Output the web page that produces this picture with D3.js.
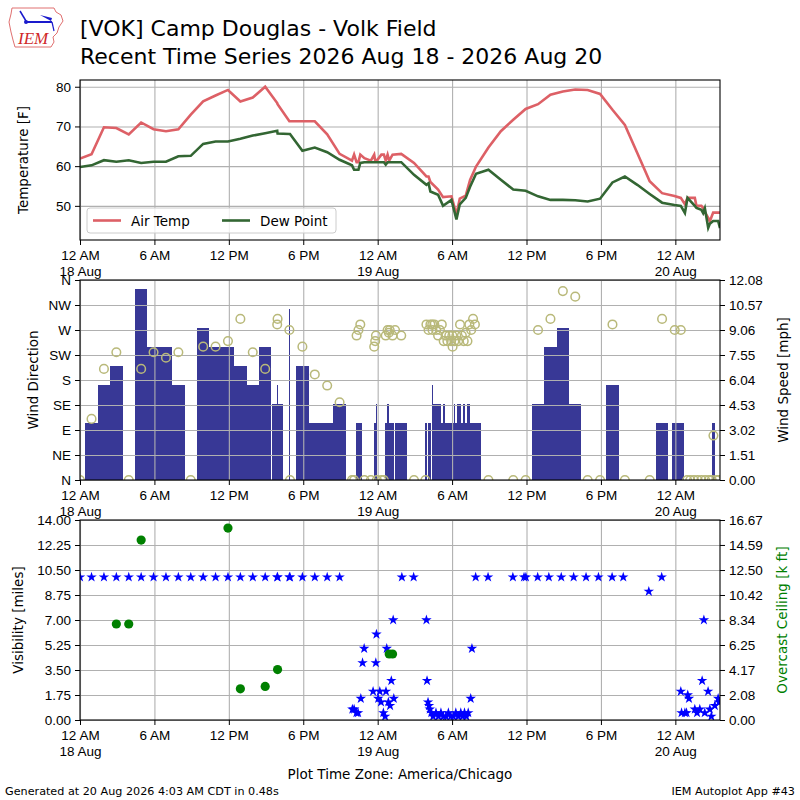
<!DOCTYPE html>
<html>
<head>
<meta charset="utf-8">
<script src="https://cdn.jsdelivr.net/npm/d3@7"></script>
<style>
  body { margin: 0; background: #fff; }
  svg { font-family: "DejaVu Sans", sans-serif; }
  .axis text { font-size: 13.5px; fill: #000; }
  .axis line { stroke: #000; }
  .axis path { display: none; }
  .grid line { stroke: #b0b0b0; stroke-width: 1.1; }
  .grid path { display: none; }
</style>
</head>
<body>
<svg id="chart" width="800" height="800"></svg>
<script>
// hours after 2026-08-18 00:00 local (America/Chicago)
const tempHours = [0, 0.93, 1.93, 2.93, 3.93, 4.93, 5.93, 6.93, 7.93, 8.93, 9.93, 10.93, 11.93, 12.93, 13.93, 14.93,
  15.9, 15.93, 16.88, 16.93, 17.93, 18.93, 19.93, 20.93, 21.93, 22.1, 22.3, 22.45, 22.6, 22.93, 23.45, 23.72, 23.8,
  23.93, 24.3, 24.5, 24.65, 24.8, 24.93, 25.2, 25.9, 26.93, 27.93, 28.1, 28.25, 28.87, 29.27, 29.95, 30.35, 30.62,
  31.1, 31.45, 31.93, 32.93, 33.93, 34.93, 35.93, 36.93, 37.93, 38.93, 39.93, 40.93, 41.93, 42.93, 43.93, 44.93,
  45.93, 46.93, 47.93, 48.44, 48.77, 48.98, 49.57, 49.7, 50.1, 50.24, 50.38, 50.65, 50.78, 51.05, 51.45, 51.6];
const airTemp = [61.9, 63.0, 69.8, 69.6, 68.0, 71.0, 69.3, 68.8, 69.3, 73.0, 76.3, 77.8, 79.2, 76.3, 77.3, 80.0,
  75.9, 75.6, 71.3, 71.3, 71.3, 71.3, 68.0, 63.1, 61.4, 62.9, 61.0, 61.0, 62.9, 62.0, 61.4, 62.9, 61.4,
  61.4, 62.9, 62.9, 61.4, 62.9, 61.4, 62.9, 63.1, 60.8, 57.4, 57.4, 56.0, 54.1, 52.2, 52.4, 47.8, 51.8,
  52.6, 56.5, 59.9, 64.7, 68.8, 71.7, 74.4, 75.6, 78.0, 78.8, 79.3, 79.2, 78.2, 74.2, 70.4, 63.3,
  56.2, 53.2, 52.5, 52.0, 50.4, 52.0, 52.0, 50.0, 50.0, 49.5, 48.4, 47.0, 46.1, 48.3, 48.3, 48.3];
const dewPoint = [59.8, 60.2, 61.5, 61.1, 61.5, 60.8, 61.1, 61.1, 62.5, 62.6, 65.6, 66.2, 66.2, 66.9, 67.7, 68.3,
  68.9, 68.2, 68.1, 68.1, 63.9, 64.7, 63.5, 61.6, 60.2, 59.1, 59.1, 59.1, 60.8, 61.0, 61.0, 61.0, 61.0,
  61.0, 61.0, 61.0, 60.4, 61.0, 61.0, 61.0, 61.0, 57.8, 55.3, 55.7, 53.6, 52.8, 50.0, 51.5, 46.6, 50.4,
  52.0, 54.8, 58.1, 59.1, 56.6, 54.1, 53.8, 52.4, 51.5, 51.5, 51.4, 51.1, 51.8, 55.9, 57.4, 55.3,
  53.0, 50.8, 50.2, 50.0, 48.2, 52.0, 50.0, 49.5, 49.0, 48.2, 49.4, 44.5, 45.5, 46.2, 46.2, 44.4];

const windHours = [0, 0.93, 1.93, 2.93, 3.93, 4.93, 5.93, 6.93, 7.93, 8.93, 9.93, 10.93, 11.93, 12.93, 13.93, 14.93,
  15.9, 15.93, 16.88, 16.93, 17.93, 18.93, 19.93, 20.93, 21.93, 22.1, 22.3, 22.45, 22.6, 22.93, 23.45, 23.72, 23.8,
  23.86, 23.93, 24.3, 24.5, 24.65, 24.8, 24.9, 24.97, 25.2, 25.4, 25.9, 26.93, 27.85, 27.93, 28.1, 28.25, 28.4, 28.42,
  28.57, 28.72, 28.87, 29.02, 29.17, 29.32, 29.47, 29.62, 29.77, 29.92, 30.02, 30.04, 30.19, 30.34, 30.49, 30.64,
  30.79, 30.94, 31.09, 31.24, 31.39, 31.54, 31.69, 31.84, 32.93, 34.93, 35.93, 36.93, 37.93, 38.93, 39.93, 40.93,
  41.93, 42.93, 43.93, 45.93, 46.93, 47.95, 48.44, 48.95, 49.2, 49.5, 49.8, 50.1, 50.4, 50.7, 50.93, 51.07, 51.3, 51.5];
const windDir = [0, 110, 200, 230, 0, 200, 230, 220, 230, 0, 240, 240, 250, 290, 230, 200,
  280, 290, 270, 0, 240, 190, 170, 140, 0, 0, 260, 270, 280, 0, 0, 240, 250,
  260, 0, 0, 0, 260, 270, 265, 270, 260, 270, 260, 0, 0, 280, 270, 280, 280, 270,
  280, 270, 260, 270, 280, 250, 260, 250, 260, 250, 260, 240, 250, 260, 250, 280,
  260, 250, 265, 250, 280, 270, 290, 280, 0, 0, 0, 270, 290, 340, 330, 0,
  0, 280, 0, 0, 290, 270, 270, 0, 0, 0, 0, 0, 0, 0, 0, 80, 0, 0];
const windKnots = [0, 3, 5, 6, 0, 10, 7, 7, 5, 0, 8, 7, 7, 6, 5, 7,
  5, 4, 9, 0, 6, 3, 3, 4, 0, 0, 3, 3, 3, 0, 0, 3, 3,
  4, 0, 0, 0, 3, 4, 4, 3, 3, 0, 3, 0, 0, 3, 3, 3, 5, 4,
  4, 4, 4, 4, 3, 4, 3, 3, 3, 3, 5, 3, 4, 3, 4, 4,
  3, 4, 3, 4, 4, 3, 3, 3, 0, 0, 0, 4, 7, 8, 4, 0,
  0, 5, 0, 0, 3, 3, 3, 0, 0, 0, 0, 0, 0, 0, 0, 3, 0, 0];

const visHours = [0, 0.93, 1.93, 2.93, 3.93, 4.93, 5.93, 6.93, 7.93, 8.93, 9.93, 10.93, 11.93, 12.93, 13.93, 14.93,
  15.9, 15.93, 16.88, 16.93, 17.93, 18.93, 19.93, 20.93, 21.96, 22.1, 22.29, 22.42, 22.64, 22.78, 22.91, 23.63,
  23.85, 23.9, 24.04, 24.17, 24.27, 24.46, 24.6, 24.67, 24.73, 24.86, 25.0, 25.1, 25.25, 25.3, 25.95, 26.9, 27.93,
  27.98, 28.06, 28.14, 28.2, 28.33, 28.47, 28.7, 28.9, 29.1, 29.3, 29.5, 29.7, 29.9, 30.1, 30.3, 30.5, 30.7, 30.85,
  31.0, 31.15, 31.3, 31.5, 31.6, 31.9, 32.9, 34.9, 35.8, 35.95, 36.9, 37.8, 38.8, 39.8, 40.8, 41.8, 42.9, 43.8,
  45.86, 46.9, 48.44, 48.5, 48.77, 48.9, 49.0, 49.1, 49.57, 49.75, 49.97, 50.16, 50.3, 50.37, 50.64, 50.78, 50.9,
  51.18, 51.45, 51.53];
const visMiles = [10, 10, 10, 10, 10, 10, 10, 10, 10, 10, 10, 10, 10, 10, 10, 10,
  10, 10, 10, 10, 10, 10, 10, 10, 0.75, 0.75, 0.5, 0.5, 1.5, 4, 5, 2,
  4, 6, 1.5, 2, 1.25, 0.5, 0.25, 2, 5, 1.25, 1, 2.75, 7, 1.5, 10, 10, 7,
  2.75, 1.25, 1, 0.75, 0.5, 0.25, 0.5, 0.25, 0.5, 0.25, 0.25, 0.5, 0.25, 0.25, 0.5, 0.25, 0.5, 0.25,
  0.5, 0.25, 0.5, 1.5, 5, 10, 10, 10, 10, 10, 10, 10, 10, 10, 10, 10, 10, 10,
  9, 10, 2, 0.5, 0.5, 0.5, 1.75, 1.5, 0.75, 0.5, 0.75, 2.75, 7, 0.5, 2, 0.75, 0.25,
  1, 1.5, 1.25];

const ceilingHours = [2.93, 3.93, 4.93, 11.93, 12.93, 14.93, 15.93, 24.93, 25.2];
const ceilingKft = [8.0, 8.0, 15.0, 16.0, 2.6, 2.8, 4.2, 5.5, 5.5];

const tempTicks = [50, 60, 70, 80];
const dirTicks = [0, 45, 90, 135, 180, 225, 270, 315, 360];
const dirLabels = ["N", "NE", "E", "SE", "S", "SW", "W", "NW", "N"];
const speedTicks = [0, 1.51, 3.02, 4.53, 6.04, 7.55, 9.06, 10.57, 12.08];
const visTicks = [0, 1.75, 3.5, 5.25, 7, 8.75, 10.5, 12.25, 14];
const ceilingTicks = [0, 2.08, 4.17, 6.25, 8.34, 10.42, 12.5, 14.59, 16.67];

const svg = d3.select("#chart");
const left = 80, right = 720;
const start = new Date(2026, 7, 18);
const at = (h) => new Date(start.getTime() + h * 3600e3);
const x = d3.scaleTime().domain([start, at(51.6)]).range([left, right]);

const hourFormat = d3.timeFormat("%-I %p");
const dayFormat = d3.timeFormat("%d %b");

const drawFrame = (top, bottom, id) => {
  svg.append("clipPath").attr("id", id)
    .append("rect").attr("x", left).attr("y", top).attr("width", right - left).attr("height", bottom - top);
};

const drawGrid = (top, bottom, y, ticks) => {
  svg.append("g").attr("class", "grid")
    .attr("transform", `translate(0,${bottom})`)
    .call(d3.axisBottom(x).ticks(d3.timeHour.every(6)).tickSize(-(bottom - top)).tickFormat(""));
  svg.append("g").attr("class", "grid")
    .attr("transform", `translate(${left},0)`)
    .call(d3.axisLeft(y).tickValues(ticks).tickSize(-(right - left)).tickFormat(""));
};

const drawAxes = (top, bottom) => {
  svg.append("rect")
    .attr("x", left).attr("y", top).attr("width", right - left).attr("height", bottom - top)
    .attr("fill", "none").attr("stroke", "#000").attr("stroke-width", 1.1);
  const g = svg.append("g").attr("class", "axis")
    .attr("transform", `translate(0,${bottom})`)
    .call(d3.axisBottom(x).ticks(d3.timeHour.every(6)).tickFormat(hourFormat).tickSize(5).tickPadding(5));
  g.selectAll(".tick text").each(function (d) {
    if (d.getHours() === 0) {
      d3.select(this).append("tspan").attr("x", 0).attr("dy", "1.2em").text(dayFormat(d));
    }
  });
};

const yLabel = (text, xPos, top, bottom, color) => {
  svg.append("text")
    .attr("transform", `translate(${xPos},${(top + bottom) / 2}) rotate(-90)`)
    .attr("text-anchor", "middle")
    .attr("dominant-baseline", "central")
    .attr("font-size", "13.5px")
    .attr("fill", color || "#000")
    .text(text);
};

// ---------- panel 1: temperature ----------
const p1 = { top: 80, bottom: 240 };
const yTemp = d3.scaleLinear().domain([41.4, 81.7]).range([p1.bottom, p1.top]);
drawFrame(p1.top, p1.bottom, "clip1");
drawGrid(p1.top, p1.bottom, yTemp, tempTicks);

const tempData = tempHours.map((h, i) => ({ t: at(h), temp: airTemp[i], dew: dewPoint[i] }));
const plot1 = svg.append("g").attr("clip-path", "url(#clip1)");
plot1.append("path").datum(tempData)
  .attr("d", d3.line().x((d) => x(d.t)).y((d) => yTemp(d.temp)))
  .attr("fill", "none").attr("stroke", "#dd6066").attr("stroke-width", 2.6);
plot1.append("path").datum(tempData)
  .attr("d", d3.line().x((d) => x(d.t)).y((d) => yTemp(d.dew)))
  .attr("fill", "none").attr("stroke", "#336633").attr("stroke-width", 2.6);

drawAxes(p1.top, p1.bottom);
svg.append("g").attr("class", "axis").attr("transform", `translate(${left},0)`)
  .call(d3.axisLeft(yTemp).tickValues(tempTicks).tickSize(5).tickPadding(4));
yLabel("Temperature [F]", 23, p1.top, p1.bottom);

// legend
const legend = svg.append("g").attr("transform", "translate(87,208)");
legend.append("rect").attr("width", 249).attr("height", 25).attr("rx", 3)
  .attr("fill", "#fff").attr("fill-opacity", 0.8).attr("stroke", "#cccccc");
[["Air Temp", "#dd6066", 0], ["Dew Point", "#336633", 129]].forEach(([name, color, dx]) => {
  legend.append("line").attr("x1", 6 + dx).attr("x2", 34 + dx).attr("y1", 12.5).attr("y2", 12.5)
    .attr("stroke", color).attr("stroke-width", 2.6);
  legend.append("text").attr("x", 44 + dx).attr("y", 12.5).attr("dominant-baseline", "central")
    .attr("font-size", "13.5px").text(name);
});

// ---------- panel 2: wind ----------
const p2 = { top: 280, bottom: 480 };
const yDir = d3.scaleLinear().domain([0, 360]).range([p2.bottom, p2.top]);
const ySpeed = d3.scaleLinear().domain([0, 12.08]).range([p2.bottom, p2.top]);
drawFrame(p2.top, p2.bottom, "clip2");

// each bar is centred on its report and as wide as the gap to the next one (at most an hour)
const windData = windHours.map((h, i) => ({
  h, t: at(h), dir: windDir[i], mph: windKnots[i] * 1.15078,
  span: Math.min(i < windHours.length - 1 ? windHours[i + 1] - h : 1, 1)
}));
const plot2 = svg.append("g").attr("clip-path", "url(#clip2)").attr("shape-rendering", "crispEdges");
plot2.selectAll("rect.bar").data(windData.filter((d) => d.mph > 0)).enter().append("rect")
  .attr("class", "bar")
  .attr("x", (d) => x(at(d.h - d.span / 2)))
  .attr("width", (d) => Math.max(1, x(at(d.h + d.span / 2)) - x(at(d.h - d.span / 2))))
  .attr("y", (d) => ySpeed(d.mph))
  .attr("height", (d) => ySpeed(0) - ySpeed(d.mph))
  .attr("fill", "#383896");
drawGrid(p2.top, p2.bottom, yDir, dirTicks);
const plot2b = svg.append("g").attr("clip-path", "url(#clip2)");
plot2b.selectAll("circle").data(windData).enter().append("circle")
  .attr("cx", (d) => x(d.t)).attr("cy", (d) => yDir(d.dir)).attr("r", 4.3)
  .attr("fill", "none").attr("stroke", "#b9b97a").attr("stroke-width", 1.5);

drawAxes(p2.top, p2.bottom);
svg.append("g").attr("class", "axis").attr("transform", `translate(${left},0)`)
  .call(d3.axisLeft(yDir).tickValues(dirTicks).tickFormat((d, i) => dirLabels[i]).tickSize(5).tickPadding(4));
svg.append("g").attr("class", "axis").attr("transform", `translate(${right},0)`)
  .call(d3.axisRight(ySpeed).tickValues(speedTicks).tickFormat(d3.format(".2f")).tickSize(5).tickPadding(4));
yLabel("Wind Direction", 33, p2.top, p2.bottom);
yLabel("Wind Speed [mph]", 783, p2.top, p2.bottom);

// ---------- panel 3: visibility and ceiling ----------
const p3 = { top: 520, bottom: 720 };
const yVis = d3.scaleLinear().domain([0, 14]).range([p3.bottom, p3.top]);
const yCeil = d3.scaleLinear().domain([0, 16.67]).range([p3.bottom, p3.top]);
drawFrame(p3.top, p3.bottom, "clip3");
drawGrid(p3.top, p3.bottom, yVis, visTicks);

const plot3 = svg.append("g").attr("clip-path", "url(#clip3)");
const star = d3.symbol(d3.symbolStar, 34);
plot3.selectAll("path.vis").data(visHours.map((h, i) => ({ t: at(h), v: visMiles[i] }))).enter()
  .append("path").attr("class", "vis")
  .attr("d", star)
  .attr("transform", (d) => `translate(${x(d.t)},${yVis(d.v)})`)
  .attr("fill", "#0000ff");
plot3.selectAll("circle.ceil").data(ceilingHours.map((h, i) => ({ t: at(h), v: ceilingKft[i] }))).enter()
  .append("circle").attr("class", "ceil")
  .attr("cx", (d) => x(d.t)).attr("cy", (d) => yCeil(d.v)).attr("r", 4.6)
  .attr("fill", "#008000");

drawAxes(p3.top, p3.bottom);
svg.append("g").attr("class", "axis").attr("transform", `translate(${left},0)`)
  .call(d3.axisLeft(yVis).tickValues(visTicks).tickFormat(d3.format(".2f")).tickSize(5).tickPadding(4));
svg.append("g").attr("class", "axis").attr("transform", `translate(${right},0)`)
  .call(d3.axisRight(yCeil).tickValues(ceilingTicks).tickFormat(d3.format(".2f")).tickSize(5).tickPadding(4));
yLabel("Visibility [miles]", 18, p3.top, p3.bottom);
yLabel("Overcast Ceiling [k ft]", 782, p3.top, p3.bottom, "#008000");

// ---------- titles ----------
svg.append("text").attr("x", 80).attr("y", 36).attr("font-size", "22px")
  .text("[VOK] Camp Douglas - Volk Field");
svg.append("text").attr("x", 80).attr("y", 64).attr("font-size", "22px")
  .text("Recent Time Series 2026 Aug 18 - 2026 Aug 20");
svg.append("text").attr("x", 400).attr("y", 779).attr("text-anchor", "middle").attr("font-size", "13.5px")
  .text("Plot Time Zone: America/Chicago");
svg.append("text").attr("x", 5).attr("y", 795).attr("font-size", "11.2px")
  .text("Generated at 20 Aug 2026 4:03 AM CDT in 0.48s");
svg.append("text").attr("x", 795).attr("y", 795).attr("text-anchor", "end").attr("font-size", "11.2px")
  .text("IEM Autoplot App #43");

// IEM logo (rough)
const logo = svg.append("g").attr("transform", "translate(8,6)");
logo.append("path")
  .attr("d", "M4,2 L46,2 L48,6 L53,9 L55,15 L51,21 L49,27 L45,31 L46,36 L43,41 L7,41 L5,34 L3,26 L1,16 L3,8 Z")
  .attr("fill", "none").attr("stroke", "#e07070").attr("stroke-width", 1);
logo.append("line").attr("x1", 17).attr("y1", 16).attr("x2", 44).attr("y2", 16)
  .attr("stroke", "#1a1acc").attr("stroke-width", 2);
logo.append("line").attr("x1", 12).attr("y1", 5).attr("x2", 18).attr("y2", 15)
  .attr("stroke", "#1a1acc").attr("stroke-width", 1.5);
logo.append("circle").attr("cx", 18).attr("cy", 16).attr("r", 2).attr("fill", "#1a1acc");
logo.append("path").attr("d", "M32,9 L44,12 L43,15 Z").attr("fill", "#1a1acc");
logo.append("line").attr("x1", 44).attr("y1", 16).attr("x2", 46).attr("y2", 25)
  .attr("stroke", "#1a1acc").attr("stroke-width", 1.2);
logo.append("text").attr("x", 10).attr("y", 38).attr("font-family", "Liberation Serif, serif")
  .attr("font-style", "italic").attr("font-size", "17px").attr("fill", "#d02828").text("IEM");
</script>
</body>
</html>
